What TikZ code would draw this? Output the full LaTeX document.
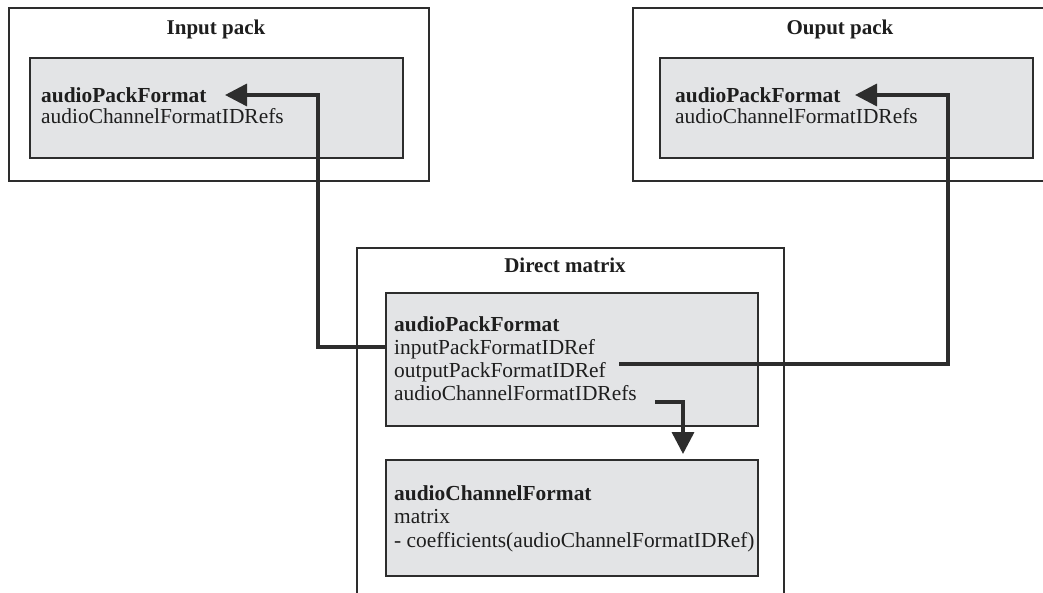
\documentclass[tikz,border=0pt]{standalone}
\usepackage{fontspec}
\setmainfont{Liberation Serif}
\usetikzlibrary{arrows.meta}
\definecolor{boxfill}{RGB}{227,228,230}
\definecolor{linecol}{RGB}{45,45,45}
\definecolor{txtcol}{RGB}{30,30,30}
\begin{document}
\begin{tikzpicture}[x=1pt,y=-1pt,
  outerbox/.style={draw=linecol,line width=2pt,fill=white,anchor=north west,inner sep=0pt},
  innerbox/.style={draw=linecol,line width=2pt,fill=boxfill,anchor=north west,inner sep=0pt},
  titletext/.style={font=\fontsize{21}{23}\selectfont\bfseries,text=txtcol,anchor=base,inner sep=0pt},
  bodytext/.style={font=\fontsize{21.4}{23}\selectfont,text=txtcol,anchor=base west,inner sep=0pt},
  conn/.style={draw=linecol,line width=3.5pt,-{Triangle[length=22pt,width=22pt]}}]
\useasboundingbox (0,0) rectangle (1043,593);
\clip (0,0) rectangle (1043,593);
% outer boxes
\node[outerbox,minimum width=420pt,minimum height=173pt] (inpack) at (8,7) {};
\node[outerbox,minimum width=420pt,minimum height=173pt] (outpack) at (632,7) {};
\node[outerbox,minimum width=427pt,minimum height=380pt] (direct) at (356,247) {};
% titles
\node[titletext] (tin) at (216,35) {Input pack};
\node[titletext] (tout) at (840,35) {Ouput pack};
\node[titletext] (tdir) at (565,273) {Direct matrix};
% inner boxes
\node[innerbox,minimum width=373pt,minimum height=100pt] (inpf) at (29,57) {};
\node[innerbox,minimum width=373pt,minimum height=100pt] (outpf) at (659,57) {};
\node[innerbox,minimum width=372pt,minimum height=133pt] (dpf) at (385,292) {};
\node[innerbox,minimum width=372pt,minimum height=116pt] (dcf) at (385,459) {};
% texts
\node[bodytext] (inpf1) at (41,103) {\bfseries audioPackFormat};
\node[bodytext] (inpf2) at (41,124) {audioChannelFormatIDRefs};
\node[bodytext] (outpf1) at (675,103) {\bfseries audioPackFormat};
\node[bodytext] (outpf2) at (675,124) {audioChannelFormatIDRefs};
\node[bodytext] (dpf1) at (394,331) {\bfseries audioPackFormat};
\node[bodytext] (dpf2) at (394,354) {inputPackFormatIDRef};
\node[bodytext] (dpf3) at (394,377) {outputPackFormatIDRef};
\node[bodytext] (dpf4) at (394,400) {audioChannelFormatIDRefs};
\node[bodytext] (dcf1) at (394,500) {\bfseries audioChannelFormat};
\node[bodytext] (dcf2) at (394,523) {matrix};
\node[bodytext] (dcf3) at (394,547) {- coefficients(audioChannelFormatIDRef)};
% connector anchors
\coordinate (s1) at (385,347);
\coordinate (t1) at (225,95);
\coordinate (s2) at (619,364);
\coordinate (t2) at (855,95);
\coordinate (s3) at (655,402);
\coordinate (t3) at (683,454);
% connectors
\draw[conn] (s1) -- (318,347) -- (318,95) -- (t1);
\draw[conn] (s2) -- (948,364) -- (948,95) -- (t2);
\draw[conn] (s3) -- (683,402) -- (t3);
\end{tikzpicture}
\end{document}
